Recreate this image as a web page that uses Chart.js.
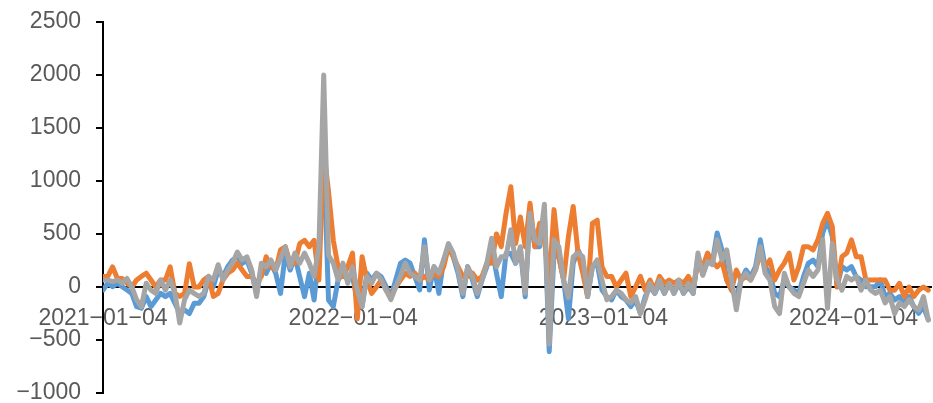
<!DOCTYPE html>
<html><head><meta charset="utf-8">
<script src="https://cdn.jsdelivr.net/npm/chart.js@4/dist/chart.umd.min.js"></script>
<style>html,body{margin:0;padding:0;background:#fff}</style>
</head><body>
<canvas id="c" width="933" height="403"></canvas>
<script>
// weekly observation dates starting 2021-01-04
const startDate = '2021-01-04';
const tickLabels = ['2021-01-04', '2022-01-04', '2023-01-04', '2024-01-04'];
const yTickValues = [-1000, -500, 0, 500, 1000, 1500, 2000, 2500];

const seriesBlue = [
 -28,35,3,35,3,-28,-60,-185,-200,-91,
 -185,-122,-60,-91,-60,-154,-250,-217,-250,-154,
 -154,-91,66,3,160,97,192,255,285,223,
 254,129,-60,160,129,223,129,-60,317,160,
 286,97,-91,129,-122,317,1250,-122,-185,66,
 129,66,97,-122,-185,129,66,129,97,3,
 -91,66,223,254,225,97,-28,445,-28,192,
 -60,254,380,286,129,-91,192,66,-91,66,
 192,380,129,-91,317,317,223,349,-91,694,
 380,380,700,-610,317,286,66,-300,223,349,
 254,-91,192,223,-28,-91,-122,-28,-91,-122,
 -185,-122,-248,-91,3,-60,35,-60,35,-60,
 35,-60,3,-60,286,120,254,230,510,349,
 66,-28,-91,66,160,97,192,445,192,129,
 -60,-91,66,3,-28,-60,97,223,254,192,
 510,630,475,3,192,160,192,97,66,3,
 3,3,66,-91,-60,-122,-91,-154,-91,-185,
 -248,-185,-311
];
const seriesOrange = [
 100,100,190,80,80,35,0,66,100,130,
 66,0,66,66,190,-60,-90,-60,220,0,
 0,66,100,-90,-60,66,130,160,225,160,
 100,100,35,100,285,190,160,350,380,225,
 225,410,440,380,440,66,1300,900,440,190,
 100,190,320,-300,285,66,-60,0,66,-30,
 -90,0,66,130,100,130,66,100,66,130,
 100,190,380,285,190,100,100,130,66,100,
 225,225,500,380,695,945,410,660,380,790,
 380,600,445,50,730,285,66,475,760,320,
 130,-90,600,630,190,100,100,0,66,130,
 -90,0,100,-30,66,-30,100,35,66,35,
 66,35,100,0,225,190,320,240,190,240,
 66,-30,160,66,100,66,160,320,190,255,
 66,160,225,320,66,190,380,380,350,445,
 600,695,570,0,285,320,445,285,285,66,
 66,66,66,66,-30,-30,35,-90,0,-90,
 -30,0,-30
];
const seriesGray = [
 66,66,50,66,35,80,0,-120,-185,35,
 -30,-60,66,-30,66,-60,-340,-120,-30,-60,
 -90,-60,100,66,210,66,160,225,330,255,
 285,160,-90,225,190,255,160,270,380,190,
 320,225,320,225,100,380,2000,300,225,66,
 225,35,190,-30,-185,100,35,130,66,-30,
 -120,0,100,225,130,100,66,380,66,190,
 130,255,410,320,160,-60,190,100,-60,66,
 225,460,190,285,285,540,225,380,-60,695,
 445,410,780,-540,445,380,66,-100,285,320,
 285,-90,190,255,66,-120,-90,-30,-60,-120,
 -150,-90,-250,-120,35,-60,66,-60,35,-60,
 66,-60,35,-60,320,110,240,210,445,255,
 350,66,-215,66,130,66,160,380,130,66,
 -185,-250,130,0,-60,-90,35,160,100,160,
 445,-200,410,66,-30,100,66,100,-30,66,
 -30,-60,-30,-150,-90,-250,-150,-185,-120,-185,
 -215,-90,-310
];

const DAY = 86400000;
const t0 = Date.parse(startDate + 'T00:00:00Z');
function dayOffset(s) { return (Date.parse(s + 'T00:00:00Z') - t0) / DAY; }
function fmt(d) { return new Date(t0 + d * DAY).toISOString().slice(0, 10); }
const dates = seriesBlue.map((_, i) => fmt(i * 7));

function toPoints(arr) { return arr.map((v, i) => ({ x: dayOffset(dates[i]), y: v })); }

const fontFamily = "'Liberation Sans', Arial, sans-serif";
const tickColor = '#595959';
const minus = s => String(s).replace(/-/g, '\u2212');
const lineStyle = { borderWidth: 5, tension: 0, borderJoinStyle: 'round', borderCapStyle: 'round', fill: false, pointRadius: 0 };

new Chart(document.getElementById('c'), {
  type: 'line',
  data: {
    datasets: [
      Object.assign({ data: toPoints(seriesBlue), borderColor: '#5B9BD5', order: 3 }, lineStyle),
      Object.assign({ data: toPoints(seriesOrange), borderColor: '#ED7D31', order: 2 }, lineStyle),
      Object.assign({ data: toPoints(seriesGray), borderColor: '#A5A5A5', order: 1 }, lineStyle)
    ]
  },
  options: {
    responsive: false,
    animation: false,
    devicePixelRatio: 1,
    layout: { padding: { top: 22, bottom: 10, left: 0, right: 2 } },
    plugins: { legend: { display: false }, tooltip: { enabled: false } },
    scales: {
      x: {
        type: 'linear',
        min: 0,
        max: 1208,
        position: { y: 0 },
        grid: { display: false },
        border: { display: true, color: '#000', width: 2 },
        afterBuildTicks: s => { s.ticks = tickLabels.map(t => ({ value: dayOffset(t) })); },
        afterFit: s => { s.height = 0; },
        ticks: {
          padding: 10,
          maxRotation: 0,
          autoSkip: false,
          color: tickColor,
          font: { family: fontFamily, size: 23 },
          callback: v => { const t = tickLabels.find(l => dayOffset(l) === v); return t ? minus(t) : ''; }
        }
      },
      y: {
        min: -1000,
        max: 2500,
        afterBuildTicks: s => { s.ticks = yTickValues.map(v => ({ value: v })); },
        afterFit: s => { s.width = 103; s.paddingTop = 0; s.paddingBottom = 0; },
        grid: { display: true, drawOnChartArea: false, drawTicks: true, tickLength: 7, color: '#000', lineWidth: 2 },
        border: { display: true, color: '#000', width: 2 },
        ticks: {
          padding: 15,
          color: tickColor,
          font: { family: fontFamily, size: 23 },
          callback: v => minus(v)
        }
      }
    }
  }
});
</script>
</body></html>
